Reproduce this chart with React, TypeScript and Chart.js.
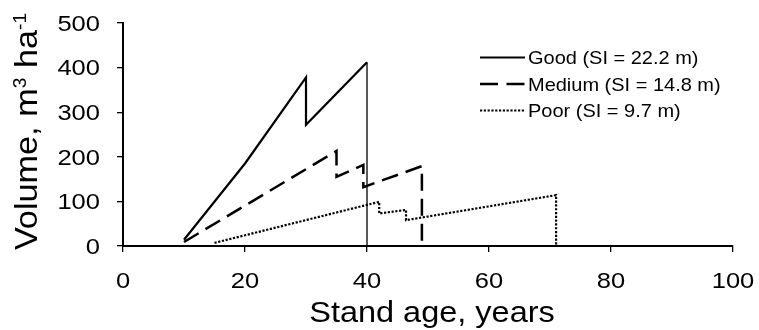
import { useEffect, useRef } from "react";
import { Chart, registerables } from "chart.js";

Chart.register(...registerables);

// Stand volume over age for three site classes (age in years, volume in m3/ha)
const goodAge = [10, 20, 30, 30, 40, 40];
const goodVolume = [14, 185, 378, 272, 412, 0];
const mediumAge = [10, 35, 35, 39.4, 39.4, 49, 49];
const mediumVolume = [9, 213, 155, 182, 132, 179, 0];
const poorAge = [15, 42, 42, 46.4, 46.4, 71, 71];
const poorVolume = [7, 99, 73, 81, 58, 114, 0];

const seriesLabels = ["Good (SI = 22.2 m)", "Medium (SI = 14.8 m)", "Poor (SI = 9.7 m)"];
const xTicks = [0, 20, 40, 60, 80, 100];
const yTicks = [0, 100, 200, 300, 400, 500];
const xTitle = "Stand age, years";
// y title pieces: [text, isSuperscript]
const yTitleParts: [string, boolean][] = [
  ["Volume, m", false],
  ["3", true],
  [" ha", false],
  ["-1", true],
];

const FONT = '"Liberation Sans", Arial, Helvetica, sans-serif';
const MEDIUM_DASH = [17, 8];
const POOR_DASH = [2.2, 1.6];

const toPoints = (xs: number[], ys: number[]) => xs.map((x, i) => ({ x, y: ys[i] }));

function drawStretched(
  ctx: CanvasRenderingContext2D,
  text: string,
  x: number,
  y: number,
  size: number,
  sx: number,
  align: CanvasTextAlign
) {
  ctx.save();
  ctx.translate(x, y);
  ctx.scale(sx, 1);
  ctx.font = `${size}px ${FONT}`;
  ctx.textAlign = align;
  ctx.textBaseline = "alphabetic";
  ctx.fillText(text, 0, 0);
  ctx.restore();
}

const textPlugin = {
  id: "axisText",
  afterDraw(chart: any) {
    const ctx: CanvasRenderingContext2D = chart.ctx;
    const xs = chart.scales.x;
    const ys = chart.scales.y;
    const area = chart.chartArea;
    ctx.save();
    ctx.fillStyle = "#000";

    // y tick labels
    const yTickSize = 22;
    ys.ticks.forEach((t: any, i: number) => {
      const py = ys.getPixelForTick(i);
      drawStretched(ctx, String(t.value), area.left - 23, py + yTickSize * 0.358, yTickSize, 1.16, "right");
    });

    // x tick labels
    xs.ticks.forEach((t: any, i: number) => {
      const px = xs.getPixelForTick(i);
      drawStretched(ctx, String(t.value), px, area.bottom + 41.5, 22, 1.16, "center");
    });

    // x title
    drawStretched(ctx, xTitle, (area.left + area.right) / 2 + 4, area.bottom + 75.5, 29, 1.12, "center");

    // y title, rotated, with superscripts
    const ySize = 32;
    const supSize = 18;
    const stretch = 1.07;
    ctx.save();
    ctx.translate(37, (area.top + area.bottom) / 2 - 3);
    ctx.rotate(-Math.PI / 2);
    ctx.scale(stretch, 1);
    ctx.textBaseline = "alphabetic";
    ctx.textAlign = "left";
    let total = 0;
    const widths = yTitleParts.map(([s, sup]) => {
      ctx.font = `${sup ? supSize : ySize}px ${FONT}`;
      const w = ctx.measureText(s).width;
      total += w;
      return w;
    });
    let cx = -total / 2;
    yTitleParts.forEach(([s, sup], i) => {
      ctx.font = `${sup ? supSize : ySize}px ${FONT}`;
      ctx.fillText(s, cx, sup ? -11 : 0);
      cx += widths[i];
    });
    ctx.restore();

    // legend
    const rows = [57.5, 84, 110.5];
    const x0 = 480;
    const x1 = 525;
    const styles = [
      { dash: [] as number[], width: 2 },
      { dash: [18, 8.5], width: 2.4 },
      { dash: POOR_DASH, width: 2 },
    ];
    rows.forEach((ry, i) => {
      ctx.save();
      ctx.strokeStyle = "#000";
      ctx.lineWidth = styles[i].width;
      ctx.lineCap = "butt";
      ctx.setLineDash(styles[i].dash);
      ctx.beginPath();
      ctx.moveTo(x0, ry);
      ctx.lineTo(x1, ry);
      ctx.stroke();
      ctx.restore();
      drawStretched(ctx, seriesLabels[i], 528, ry + 6.6, 18.5, 1.08, "left");
    });

    ctx.restore();
  },
};

export default function App() {
  const canvasRef = useRef<HTMLCanvasElement | null>(null);

  useEffect(() => {
    document.body.style.margin = "0";
    const canvas = canvasRef.current;
    if (!canvas) return;

    const chart = new Chart(canvas, {
      type: "line",
      data: {
        datasets: [
          {
            label: seriesLabels[0],
            data: toPoints(goodAge, goodVolume),
            borderColor: "#000",
            borderWidth: 2.2,
            borderJoinStyle: "miter",
            pointRadius: 0,
            segment: {
              borderWidth: (c: any) => (c.p1DataIndex === goodAge.length - 1 ? 1.3 : 2.2),
            },
          },
          {
            label: seriesLabels[1],
            data: toPoints(mediumAge, mediumVolume),
            borderColor: "#000",
            borderWidth: 2.5,
            borderDash: MEDIUM_DASH,
            borderJoinStyle: "miter",
            pointRadius: 0,
          },
          {
            label: seriesLabels[2],
            data: toPoints(poorAge, poorVolume),
            borderColor: "#000",
            borderWidth: 2.2,
            borderDash: POOR_DASH,
            pointRadius: 0,
          },
        ],
      },
      options: {
        animation: false,
        responsive: false,
        maintainAspectRatio: false,
        devicePixelRatio: 1,
        layout: { padding: { left: 0, right: 26, top: 23, bottom: 0 } },
        plugins: {
          legend: { display: false },
          tooltip: { enabled: false },
        },
        scales: {
          x: {
            type: "linear",
            min: 0,
            max: 100,
            afterBuildTicks: (s: any) => {
              s.ticks = xTicks.map((v) => ({ value: v }));
            },
            afterFit: (s: any) => {
              s.height = 84;
            },
            ticks: { display: false },
            grid: {
              drawOnChartArea: false,
              drawTicks: true,
              tickLength: 6,
              color: "#000",
              lineWidth: 1.3,
            },
            border: { display: true, color: "#000", width: 2 },
          },
          y: {
            type: "linear",
            min: 0,
            max: 500,
            afterBuildTicks: (s: any) => {
              s.ticks = yTicks.map((v) => ({ value: v }));
            },
            afterFit: (s: any) => {
              s.width = 123;
            },
            ticks: { display: false },
            grid: {
              drawOnChartArea: false,
              drawTicks: true,
              tickLength: 6,
              color: "#000",
              lineWidth: 1.3,
            },
            border: { display: true, color: "#000", width: 2 },
          },
        },
      },
      plugins: [textPlugin],
    } as any);

    return () => chart.destroy();
  }, []);

  return (
    <div style={{ width: 759, height: 330, background: "#fff" }}>
      <canvas ref={canvasRef} width={759} height={330} style={{ display: "block" }} />
    </div>
  );
}
